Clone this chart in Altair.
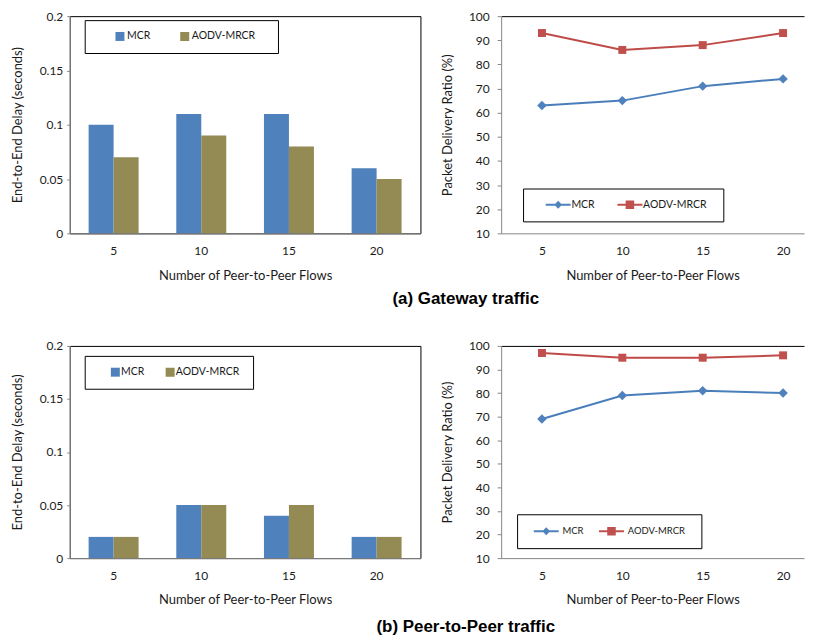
import altair as alt
import pandas as pd

# ---------------- data ----------------
flows = ["5", "10", "15", "20"]
series = ["MCR", "AODV-MRCR"]

gw_delay_mcr = [0.10, 0.11, 0.11, 0.06]
gw_delay_aodv = [0.07, 0.09, 0.08, 0.05]
gw_pdr_mcr = [63, 65, 71, 74]
gw_pdr_aodv = [93, 86, 88, 93]

p2p_delay_mcr = [0.02, 0.05, 0.04, 0.02]
p2p_delay_aodv = [0.02, 0.05, 0.05, 0.02]
p2p_pdr_mcr = [69, 79, 81, 80]
p2p_pdr_aodv = [97, 95, 95, 96]

row_titles = ["(a) Gateway traffic", "(b) Peer-to-Peer traffic"]
x_title = "Number of Peer-to-Peer Flows"
delay_title = "End-to-End Delay (seconds)"
pdr_title = "Packet Delivery Ratio (%)"
delay_ticks = [0, 0.05, 0.1, 0.15, 0.2]
pdr_ticks = [10, 20, 30, 40, 50, 60, 70, 80, 90, 100]

# ---------------- style ----------------
FONT = "Lato"
TEXT = "#1a1a1a"
AXIS_GRAY = "#868686"
BAR_COLORS = ["#4F81BD", "#948A54"]
LINE_COLORS = ["#4A7EBB", "#BE4B48"]
MARK_COLORS = ["#4F81BD", "#C0504D"]
INDEP = dict(color="independent", shape="independent")


# legend symbol paths (unit = 4.5 px with symbolSize 81), shifted by t units
def p_sq(t):
    return f"M{t-1:.3f},-1 L{t+1:.3f},-1 L{t+1:.3f},1 L{t-1:.3f},1 Z "


def p_seg(t):
    return (f"M{t-2.78:.3f},-0.22 L{t+2.78:.3f},-0.22 "
            f"L{t+2.78:.3f},0.22 L{t-2.78:.3f},0.22 Z ")


def p_dia(t):
    return f"M{t:.3f},-0.9 L{t+0.85:.3f},0 L{t:.3f},0.9 L{t-0.85:.3f},0 Z "


def p_sqm(t):
    return f"M{t-0.95:.3f},-0.95 L{t+0.95:.3f},-0.95 L{t+0.95:.3f},0.95 L{t-0.95:.3f},0.95 Z "


def p_ext(x):
    # zero-area sub-path: invisible, only widens the legend entry to the right
    return f"M{x:.3f},-0.01 L{x:.3f},0.01 "


def table(a, b, field):
    return pd.DataFrame({
        "flows": flows + flows,
        "series": [series[0]] * len(flows) + [series[1]] * len(flows),
        field: a + b,
    })


def x_axis(lp, tp):
    return alt.Axis(title=x_title, labelAngle=0, ticks=False, tickSize=0,
                    domainColor=AXIS_GRAY, labelPadding=lp, titlePadding=tp,
                    labelFont=FONT, labelFontSize=12, labelColor=TEXT,
                    titleFont=FONT, titleFontSize=13, titleFontWeight="normal",
                    titleColor=TEXT)


def make_legend(lx, ly, fs, pad, col_pad, label_off):
    return alt.Legend(
        title=None, orient="none", legendX=lx, legendY=ly, direction="horizontal",
        strokeColor="black", fillColor="white", padding=pad,
        symbolSize=81, symbolStrokeWidth=0,
        labelOffset=label_off, columnPadding=col_pad,
        labelFont=FONT, labelFontSize=fs, labelColor=TEXT,
    )


def key_layer(df, x_enc, colors, paths, leg):
    # clipped-away points that only carry the legend
    return alt.Chart(df).mark_point(filled=True, opacity=1, size=81, clip=True).encode(
        x=x_enc,
        y=alt.value(-1000),
        color=alt.Color("series:N", sort=series,
                        scale=alt.Scale(domain=series, range=colors), legend=leg),
        shape=alt.Shape("series:N", sort=series,
                        scale=alt.Scale(domain=series, range=paths), legend=leg),
    )


def bar_panel(a, b, height, leg, paths, lp, tp):
    df = table(a, b, "delay")
    yaxis = alt.Axis(title=delay_title, values=delay_ticks, format=".2~f", grid=False,
                     tickSize=3, tickColor=AXIS_GRAY, domainColor=AXIS_GRAY,
                     labelPadding=4, minExtent=33, maxExtent=33, titlePadding=12,
                     labelFont=FONT, labelFontSize=12, labelColor=TEXT,
                     titleFont=FONT, titleFontSize=13, titleFontWeight="normal",
                     titleColor=TEXT)
    xsc = alt.Scale(domain=flows, paddingInner=0.43, paddingOuter=0.215)
    x_enc = alt.X("flows:N", sort=flows, scale=xsc, axis=x_axis(lp, tp))
    xo = alt.XOffset("series:N", sort=series,
                     scale=alt.Scale(domain=series, paddingInner=0, paddingOuter=0))
    ysc = alt.Scale(domain=[0, 0.2], nice=False)
    bars = [
        alt.Chart(df).transform_filter(alt.datum.series == s).mark_bar(color=c).encode(
            x=x_enc, xOffset=xo, y=alt.Y("delay:Q", scale=ysc, axis=yaxis))
        for s, c in zip(series, BAR_COLORS)
    ]
    key = key_layer(df, x_enc, BAR_COLORS, paths, leg)
    return alt.layer(*bars, key).properties(
        width=352, height=height, view=alt.ViewBackground(stroke="black", strokeWidth=1))


def line_panel(a, b, height, leg, paths, lp, tp):
    df = table(a, b, "pdr")
    xs = alt.Scale(domain=flows, padding=0.384, align=0.661)
    yaxis = alt.Axis(title=pdr_title, values=pdr_ticks, grid=False,
                     tickSize=4, tickColor=AXIS_GRAY, domainColor=AXIS_GRAY,
                     labelPadding=8, minExtent=30, maxExtent=30, titlePadding=17,
                     labelFont=FONT, labelFontSize=12, labelColor=TEXT,
                     titleFont=FONT, titleFontSize=13, titleFontWeight="normal",
                     titleColor=TEXT)
    ys = alt.Scale(domain=[10, 100], nice=False)
    top_axis = alt.Axis(orient="top", labels=False, ticks=False, title=None,
                        domainColor="black")
    x_bottom = alt.X("flows:N", sort=flows, scale=xs, axis=x_axis(lp, tp))
    x_top = alt.X("flows:N", sort=flows, scale=xs, axis=top_axis)
    x_plain = alt.X("flows:N", sort=flows, scale=xs, axis=None)
    y_enc = alt.Y("pdr:Q", scale=ys, axis=yaxis)
    layers = []
    for i, (s, lc, mc, shp, sz) in enumerate(zip(series, LINE_COLORS, MARK_COLORS,
                                                 ["diamond", "square"], [90, 64])):
        sub = alt.Chart(df).transform_filter(alt.datum.series == s)
        layers.append(sub.mark_line(strokeWidth=2, color=lc).encode(
            x=x_bottom if i == 0 else x_plain, y=y_enc))
        layers.append(sub.mark_point(filled=True, opacity=1, shape=shp, size=sz,
                                     color=mc).encode(
            x=x_top if i == 0 else x_plain, y=y_enc))
    key = key_layer(df, x_plain, MARK_COLORS, paths, leg)
    return alt.layer(*layers, key).resolve_axis(x="independent").properties(
        width=304, height=height, view=alt.ViewBackground(stroke="transparent"))


def row(title, bar, line, dx, off):
    return alt.hconcat(bar, line, spacing=19).resolve_scale(**INDEP).resolve_legend(
        **INDEP).properties(
        title=alt.TitleParams(title, orient="bottom", anchor="middle", font="Liberation Sans",
                              fontSize=17, fontWeight="bold", color="black", offset=off, dx=dx))


row_a = row(
    row_titles[0],
    bar_panel(gw_delay_mcr, gw_delay_aodv, 218,
              make_legend(15, 4, 10.5, 11, 10, 21),
              [p_sq(4.25), p_sq(4.25) + p_ext(22.5)], 12, 13),
    line_panel(gw_pdr_mcr, gw_pdr_aodv, 218,
               make_legend(22, 173, 10.5, 11, 11, 27),
               [p_seg(4.22) + p_dia(4.22),
                p_seg(4.22) + p_sqm(4.22) + p_ext(22.55)], 12, 13),
    58, 8)
row_b = row(
    row_titles[1],
    bar_panel(p2p_delay_mcr, p2p_delay_aodv, 213,
              make_legend(15, 10, 10.5, 11, 6, 15),
              [p_sq(3.22), p_sq(3.22) + p_ext(19.27)], 12, 13),
    line_panel(p2p_pdr_mcr, p2p_pdr_aodv, 213,
               make_legend(16, 169, 9.5, 12, 10.5, 24),
               [p_seg(2.78) + p_dia(2.78),
                p_seg(2.78) + p_sqm(2.78) + p_ext(20.0)], 12, 13),
    58, 12)

chart = alt.vconcat(row_a, row_b, spacing=32).resolve_scale(**INDEP).resolve_legend(
    **INDEP).properties(
    padding={"left": 3, "top": 0, "right": 0, "bottom": 0}
).configure_view(stroke=None).configure(
    background="white", padding={"left": 3, "top": 0, "right": 0, "bottom": 0})

chart.save("out.html", embed_options={"renderer": "svg", "actions": False})
